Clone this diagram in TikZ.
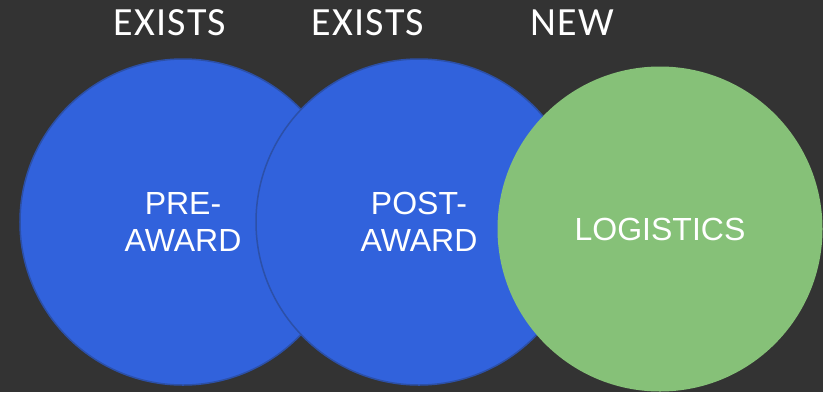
\documentclass[tikz,border=0pt]{standalone}
\usepackage{fontspec}
\setmainfont{Liberation Sans}
\newfontfamily\headfont[LetterSpace=3]{Carlito}
\definecolor{bgc}{HTML}{333333}
\definecolor{blfill}{HTML}{3162DC}
\definecolor{bledge}{HTML}{2C50A8}
\definecolor{grfill}{HTML}{86C178}
\tikzset{
  bluecirc/.style={circle, fill=blfill, draw=bledge, line width=1.5bp, minimum size=326bp, inner sep=0pt, text=white, align=center, font=\fontsize{32bp}{37bp}\selectfont},
  greencirc/.style={circle, fill=grfill, minimum size=325bp, inner sep=0pt, text=white, align=center, font=\fontsize{32bp}{37bp}\selectfont},
  headlbl/.style={text=white, inner sep=0pt, font=\headfont\fontsize{40bp}{46bp}\selectfont}
}
\begin{document}
\begin{tikzpicture}[x=1bp,y=-1bp]
\useasboundingbox (0,0) rectangle (823,392);
\fill[bgc] (0,0) rectangle (823,392);
\node[bluecirc] (pre) at (183,222) {PRE-\\AWARD};
\node[bluecirc] (post) at (419,222) {POST-\\AWARD};
\node[greencirc] (log) at (660,229) {LOGISTICS};
\node[headlbl] (h1) at (170,22.5) {EXISTS};
\node[headlbl] (h2) at (368,22.5) {EXISTS};
\node[headlbl] (h3) at (572,22.5) {NEW};
\end{tikzpicture}
\end{document}
